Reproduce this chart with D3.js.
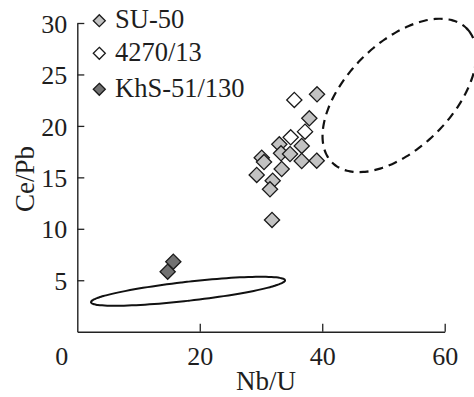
<!DOCTYPE html>
<html>
<head>
<meta charset="utf-8">
<script src="https://cdn.jsdelivr.net/npm/d3@7"></script>
<style>
  html, body { margin: 0; padding: 0; background: #fff; }
  svg { display: block; }
  text { font-family: "Liberation Serif", "Times New Roman", serif; fill: #1e1e1e; }
</style>
</head>
<body>
<svg id="chart" width="474" height="397"></svg>
<script>
// Nb/U vs Ce/Pb for three sample groups
const su50 = [
  [39.15, 23.07], [37.89, 20.74], [32.99, 18.21], [36.65, 18.05],
  [33.27, 17.34], [34.74, 17.27], [30.12, 16.91], [30.49, 16.49],
  [36.65, 16.59], [39.10, 16.62], [33.38, 15.81], [29.30, 15.23],
  [31.91, 14.67], [31.47, 13.84], [31.80, 10.86]
];
const s4270 = [
  [35.44, 22.52], [37.19, 19.44], [34.85, 18.89]
];
const khs = [
  [15.68, 6.80], [14.76, 5.83]
];

const seriesNames = ["SU-50", "4270/13", "KhS-51/130"];
const seriesFill = ["#c2c2c2", "#ffffff", "#717171"];

const xTicks = [0, 20, 40, 60];
const yTicks = [5, 10, 15, 20, 25, 30];

// Reference fields: centre and two conjugate semi-axis vectors, in data units
const solidField = { c: [18.08, 3.93], u: [15.84, 1.07], v: [0.175, -0.917] };
const dashedField = { c: [52.6, 22.96], u: [10.98, 6.52], v: [6.08, -3.61] };

const svg = d3.select("#chart");
const x = d3.scaleLinear().domain([0, 60]).range([77.3, 444.7]);
const y = d3.scaleLinear().domain([0, 30]).range([331.7, 23]);

// Fields
function fieldPath(f) {
  const pts = d3.range(0, 361, 3).map(a => {
    const t = a * Math.PI / 180;
    return [x(f.c[0] + f.u[0] * Math.cos(t) + f.v[0] * Math.sin(t)),
            y(f.c[1] + f.u[1] * Math.cos(t) + f.v[1] * Math.sin(t))];
  });
  return d3.line().curve(d3.curveCardinalClosed)(pts.slice(0, -1));
}
svg.append("path").attr("d", fieldPath(solidField))
  .attr("fill", "none").attr("stroke", "#111").attr("stroke-width", 2);
svg.append("path").attr("d", fieldPath(dashedField))
  .attr("fill", "none").attr("stroke", "#111").attr("stroke-width", 2.2)
  .attr("stroke-dasharray", "9 6");

// Axes
const xAxis = svg.append("g").attr("transform", `translate(0,${y(0)})`)
  .call(d3.axisBottom(x).tickValues(xTicks).tickSizeInner(-8).tickSizeOuter(0).tickFormat(d3.format("d")));
const yAxis = svg.append("g").attr("transform", `translate(${x(0)},0)`)
  .call(d3.axisLeft(y).tickValues(yTicks).tickSizeInner(-7).tickSizeOuter(0).tickFormat(d3.format("d")));
[xAxis, yAxis].forEach(g => {
  g.select(".domain").attr("stroke", "#222").attr("stroke-width", 1.4);
  g.selectAll(".tick line").attr("stroke", "#222").attr("stroke-width", 1.3);
  g.selectAll(".tick text").attr("font-size", 26).attr("fill", "#1e1e1e")
    .attr("font-family", "Liberation Serif, Times New Roman, serif");
});
xAxis.selectAll(".tick line").filter(d => d === 0).remove();
xAxis.selectAll(".tick text").attr("y", 0).attr("dy", 33);
xAxis.selectAll(".tick text").filter(d => d === 0).attr("dx", -16);
yAxis.selectAll(".tick text").attr("x", -10).attr("dy", "0.35em");

// Axis titles
svg.append("text").attr("x", 266).attr("y", 390).attr("text-anchor", "middle")
  .attr("font-size", 27).text("Nb/U");
svg.append("text").attr("transform", `translate(34,179) rotate(-90)`)
  .attr("text-anchor", "middle").attr("font-size", 27).text("Ce/Pb");

// Points
const diamond = r => `M0,${-r}L${r},0L0,${r}L${-r},0Z`;
[su50, s4270, khs].forEach((data, i) => {
  svg.append("g").selectAll("path").data(data).join("path")
    .attr("d", diamond(7.6))
    .attr("transform", d => `translate(${x(d[0])},${y(d[1])})`)
    .attr("fill", seriesFill[i]).attr("stroke", "#1a1a1a").attr("stroke-width", 1.3);
});

// Legend
const legendY = [20.7, 53.3, 89.3];
const legend = svg.append("g");
seriesNames.forEach((name, i) => {
  legend.append("path").attr("d", diamond(6))
    .attr("transform", `translate(99.3,${legendY[i]})`)
    .attr("fill", seriesFill[i]).attr("stroke", "#1a1a1a").attr("stroke-width", 1.3);
  legend.append("text").attr("x", 115).attr("y", legendY[i] + 7.5)
    .attr("font-size", 26.5).text(name);
});
</script>
</body>
</html>
